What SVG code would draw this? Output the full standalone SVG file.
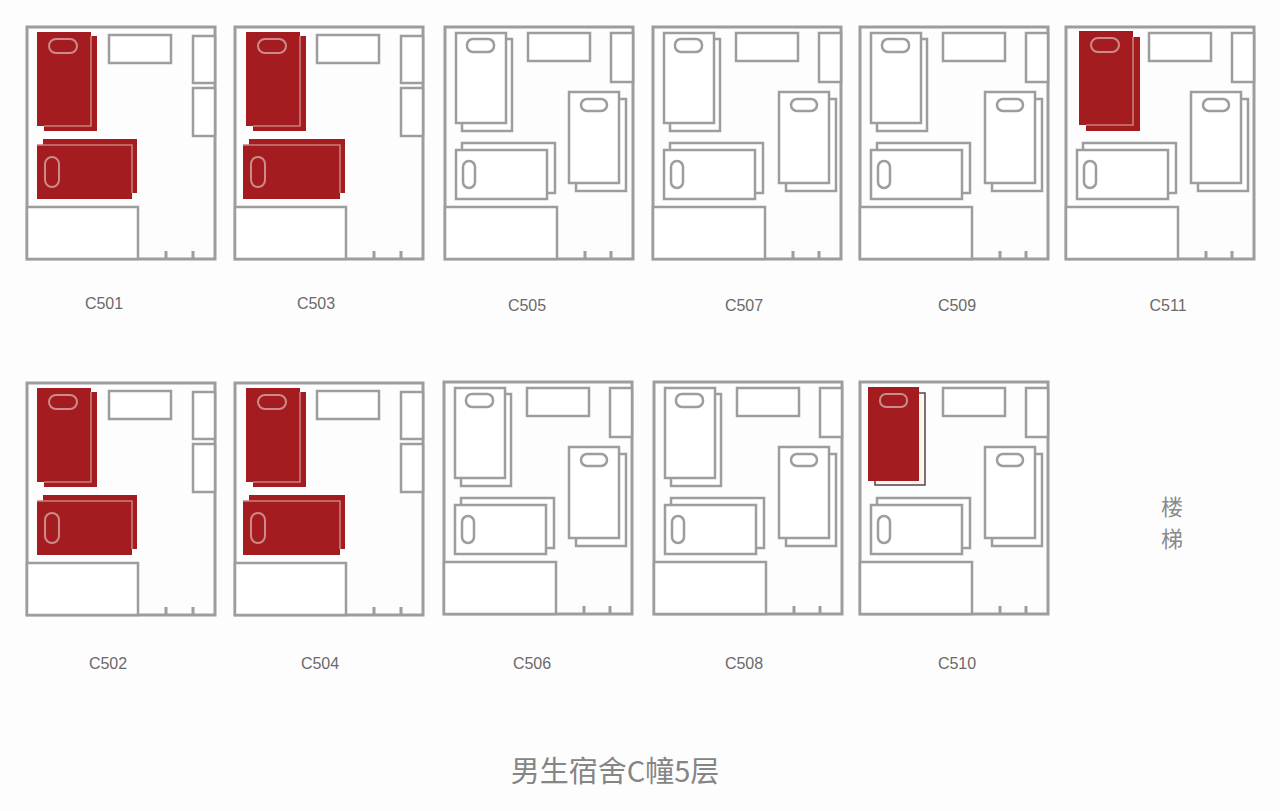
<svg xmlns="http://www.w3.org/2000/svg" width="1280" height="811" viewBox="0 0 1280 811">
<style>
.w{fill:#fff;stroke:#9e9d9d;stroke-width:2.5}
.f{fill:none;stroke:#9e9d9d;stroke-width:3}
.r{fill:#a51c20;stroke:none}
.rl{fill:none;stroke:#c97f7c;stroke-width:1.6}
.rp{fill:none;stroke:#c98c88;stroke-width:2}
.p{fill:#fff;stroke:#9e9d9d;stroke-width:2.5}
.t{font-family:"Liberation Sans","Noto Sans CJK SC",sans-serif;font-size:16px;fill:#6a6a6a;text-anchor:middle}
.s{font-family:"Noto Sans CJK SC",sans-serif;font-size:22px;fill:#8a8a8a;text-anchor:middle}
.h{font-family:"Noto Sans CJK SC",sans-serif;font-size:29px;fill:#858585;text-anchor:middle}
</style>
<defs>
<g id="base-a">
<rect class="f" x="0" y="0" width="188" height="232"/>
<rect class="w" x="82" y="8" width="62" height="28"/>
<rect class="w" x="166" y="9" width="22" height="47"/>
<rect class="w" x="166" y="61" width="22" height="48"/>
<rect class="w" x="0" y="180" width="111" height="52"/>
<path class="f" d="M139 224V232M166 224V232"/>
</g>
<g id="red-bed-v">
<path class="r" d="M10 5H64V9H70V104H17V99H10Z"/>
<path class="rl" d="M64 9V99H17"/>
<rect class="rp" x="22" y="12" width="28" height="14" rx="7"/>
</g>
<g id="red-bed-h">
<path class="r" d="M16 112H110V166H105V172H10V118H16Z"/>
<path class="rl" d="M10 118H105V166"/>
<rect class="rp" x="18" y="130" width="14" height="30" rx="7"/>
</g>
<g id="red-bed-h-wide">
<path class="r" d="M14 112H110V166H105V172H8V118H14Z"/>
<path class="rl" d="M8 118H105V166"/>
<rect class="rp" x="16" y="130" width="14" height="30" rx="7"/>
</g>
<g id="base-b">
<rect class="f" x="0" y="0" width="188" height="232"/>
<rect class="w" x="83" y="6" width="62" height="28"/>
<rect class="w" x="166" y="6" width="22" height="49"/>
<rect class="w" x="0" y="180" width="112" height="52"/>
<path class="f" d="M140 224V232M166 224V232"/>
<rect class="w" x="17" y="116" width="93" height="50"/>
<rect class="w" x="11" y="123" width="91" height="49"/>
<rect class="p" x="18" y="134" width="12" height="27" rx="6"/>
</g>
<g id="bed-right">
<rect class="w" x="131" y="72" width="50" height="92"/>
<rect class="w" x="124" y="65" width="50" height="91"/>
<rect class="p" x="136" y="72" width="26" height="12" rx="6"/>
</g>
<g id="white-bed-b">
<rect class="w" x="17" y="12" width="50" height="92"/>
<rect class="w" x="11" y="6" width="50" height="90"/>
<rect class="p" x="22" y="12" width="27" height="13" rx="6"/>
</g>
</defs>
<rect id="background" x="0" y="0" width="1280" height="811" fill="#fefdfe"/>
<g id="C501" transform="translate(27,27)"><use href="#base-a"/><use href="#red-bed-v"/><use href="#red-bed-h"/></g>
<g id="C503" transform="translate(235,27)"><use href="#base-a"/><use href="#red-bed-v" x="1"/><use href="#red-bed-h-wide"/></g>
<g id="C505" transform="translate(445,27)"><use href="#base-b"/><use href="#bed-right"/><use href="#white-bed-b"/></g>
<g id="C507" transform="translate(653,27)"><use href="#base-b"/><use href="#bed-right" x="2"/><use href="#white-bed-b"/></g>
<g id="C509" transform="translate(860,27)"><use href="#base-b"/><use href="#bed-right" x="1"/><use href="#white-bed-b"/></g>
<g id="C511" transform="translate(1066,27)"><use href="#base-b"/><use href="#bed-right" x="1"/>
<path class="r" d="M13 4H67V10H74V104H20V98H13Z"/>
<path class="rl" d="M67 10V98H20"/>
<rect class="rp" x="25" y="11" width="28" height="14" rx="7"/>
</g>
<g id="C502" transform="translate(27,383)"><use href="#base-a"/><use href="#red-bed-v"/><use href="#red-bed-h"/></g>
<g id="C504" transform="translate(235,383)"><use href="#base-a"/><use href="#red-bed-v" x="1"/><use href="#red-bed-h-wide"/></g>
<g id="C506" transform="translate(444,382)"><use href="#base-b"/><use href="#bed-right" x="1"/><use href="#white-bed-b"/></g>
<g id="C508" transform="translate(654,382)"><use href="#base-b"/><use href="#bed-right" x="1"/><use href="#white-bed-b"/></g>
<g id="C510" transform="translate(860,382)"><use href="#base-b"/><use href="#bed-right" x="1"/>
<rect x="15" y="11" width="50" height="92" fill="#fff6ee" stroke="#55404a" stroke-width="1.5"/>
<rect class="r" x="8" y="5" width="51" height="94"/>
<rect class="rp" x="20" y="12" width="27" height="13" rx="6"/>
</g>
<g id="labels">
<text class="t" x="104" y="309">C501</text>
<text class="t" x="316" y="309">C503</text>
<text class="t" x="527" y="311">C505</text>
<text class="t" x="744" y="311">C507</text>
<text class="t" x="957" y="311">C509</text>
<text class="t" x="1168" y="311">C511</text>
<text class="t" x="108" y="669">C502</text>
<text class="t" x="320" y="669">C504</text>
<text class="t" x="532" y="669">C506</text>
<text class="t" x="744" y="669">C508</text>
<text class="t" x="957" y="669">C510</text>
<text class="s" x="1172" y="515">楼</text>
<text class="s" x="1172" y="547">梯</text>
<text class="h" x="615" y="782">男生宿舍C幢5层</text>
</g>
</svg>
